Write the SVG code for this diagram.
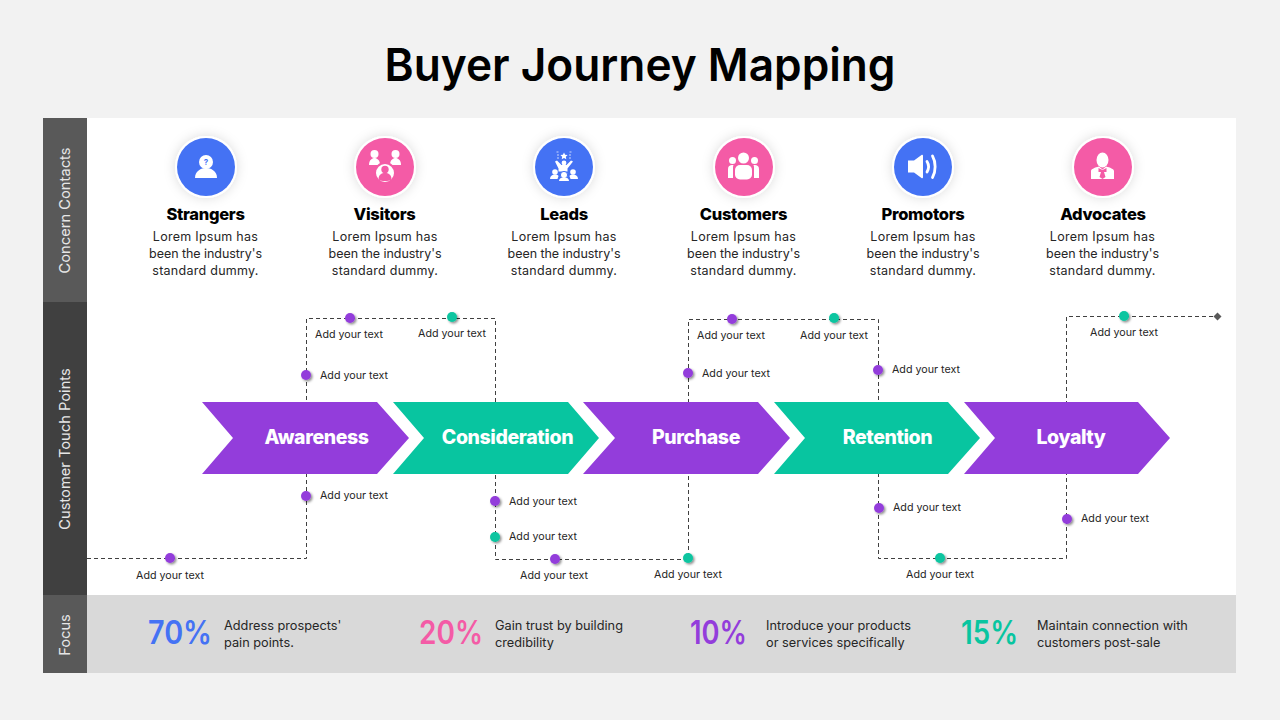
<svg xmlns="http://www.w3.org/2000/svg" width="1280" height="720" viewBox="0 0 1280 720">
<defs>
<filter id="ds" x="-60%" y="-60%" width="240%" height="240%"><feDropShadow dx="1.5" dy="1.5" stdDeviation="1.2" flood-color="#000" flood-opacity=".45"/></filter>
<filter id="gs" x="-40%" y="-40%" width="180%" height="180%"><feDropShadow dx="0" dy="0" stdDeviation="6" flood-color="#000" flood-opacity=".14"/></filter>
<circle id="dp" r="5" fill="#933ddb" filter="url(#ds)"/>
<circle id="dg" r="5" fill="#08c5a0" filter="url(#ds)"/>
</defs>
<style>
text{font-family:"Inter","Liberation Sans",sans-serif}
.title{font-size:45px;font-weight:600;fill:#000;text-anchor:middle}
.h{font-size:16.5px;font-weight:800;fill:#000;text-anchor:middle;letter-spacing:-.3px}
.b{font-size:12.5px;fill:#262626;text-anchor:middle}
.l1{letter-spacing:.27px}
.l2{letter-spacing:-.05px}
.s{font-size:10.7px;fill:#262626}
.m{text-anchor:middle}
.c{font-size:19.5px;font-weight:800;fill:#fff;text-anchor:middle;letter-spacing:-.4px}
.v{font-size:14.7px;fill:#e6e6e6;text-anchor:middle}
.p{font-size:32px;font-weight:600}
.f{font-size:12.75px;fill:#262626}
.ring{fill:#fff;filter:url(#gs)}
.i{fill:#fff}
.w{fill:none;stroke:#fff;stroke-width:2.800;stroke-linecap:round}
.sp{fill:none;stroke:#fff;stroke-width:.9;opacity:.8}
.dash{fill:none;stroke:#404040;stroke-width:1;stroke-dasharray:4 3}
</style>
<rect width="1280" height="720" fill="#f2f2f2"/>
<text class="title" x="640" y="81" textLength="511" lengthAdjust="spacingAndGlyphs">Buyer Journey Mapping</text>
<g id="panels">
<rect x="87" y="118" width="1149" height="477" fill="#fff"/>
<rect x="87" y="595" width="1149" height="78" fill="#d9d9d9"/>
<rect x="43" y="118" width="44" height="184" fill="#595959"/>
<rect x="43" y="302" width="44" height="293" fill="#404040"/>
<rect x="43" y="595" width="44" height="78" fill="#595959"/>
<text class="v" transform="translate(70 210.500) rotate(-90)">Concern Contacts</text>
<text class="v" transform="translate(70 449) rotate(-90)">Customer Touch Points</text>
<text class="v" transform="translate(70 635) rotate(-90)">Focus</text>
</g>
<g id="connectors">
<path class="dash" d="M87 558.500H306.500V318.500H495.500V559.500H688.500V319.500H878.500V558.500H1066.500V316.500H1217"/>
<path d="M1217.500 312.500l4 4-4 4-4-4z" fill="#595959"/>
</g>
<g id="node-strangers">
<circle class="ring" cx="206" cy="167" r="31"/><circle cx="206" cy="167" r="29" fill="#4472f4"/>
<circle class="i" cx="206" cy="162" r="7"/><path class="i" d="M195 178c0-7 6-10 11-10s11 3 11 10z"/>
<text x="206" y="165" font-size="8" font-weight="700" fill="#4472f4" text-anchor="middle">?</text>
<text class="h" x="205.500" y="220">Strangers</text>
<text class="b"><tspan class="l1" x="205.500" y="241">Lorem Ipsum has</tspan><tspan class="l2" x="205.500" y="258">been the industry's</tspan><tspan class="l1" x="205.500" y="275">standard dummy.</tspan></text>
</g>
<g id="node-visitors">
<circle class="ring" cx="385" cy="167" r="31"/><circle cx="385" cy="167" r="29" fill="#f45ba6"/>
<circle class="i" cx="374.500" cy="154" r="4"/><path class="i" d="M369 165c0-5 3-7 5.500-7s5.500 2 5.500 7z"/>
<circle class="i" cx="395.500" cy="154" r="4"/><path class="i" d="M390 165c0-5 3-7 5.500-7s5.500 2 5.500 7z"/>
<circle class="i" cx="385" cy="173" r="10" stroke="#f45ba6" stroke-width="2"/><circle cx="385" cy="169.500" r="3.700" fill="#f45ba6"/><path d="M378.500 179.500c0-5 3-6.500 6.500-6.500s6.500 1.500 6.500 6.500c-3 2-10 2-13 0z" fill="#f45ba6"/>
<text class="h" x="384.500" y="220">Visitors</text>
<text class="b"><tspan class="l1" x="385" y="241">Lorem Ipsum has</tspan><tspan class="l2" x="385" y="258">been the industry's</tspan><tspan class="l1" x="385" y="275">standard dummy.</tspan></text>
</g>
<g id="node-leads">
<circle class="ring" cx="564" cy="167" r="31"/><circle cx="564" cy="167" r="29" fill="#4472f4"/>
<path class="i" d="M564 152.500l1.100 2.300 2.500.3-1.800 1.700.5 2.500-2.300-1.300-2.300 1.300.5-2.500-1.800-1.700 2.500-.3z"/>
<path class="sp" d="M557 155h2M569 155h2M557 158h2M569 158h2M556.500 152h2M569.500 152h2"/>
<circle class="i" cx="564" cy="163" r="2.400"/>
<path class="i" d="M555 161.500l2-1 4.500 4.500h5l4.500-4.500 2 1-5.500 7v3h-9v-3z"/>
<circle class="i" cx="555" cy="172" r="2.800"/><path class="i" d="M550 179c0-3 2-4.500 5-4.500 2 0 3 .5 3.500 1.500l-1 3z"/>
<circle class="i" cx="573" cy="172" r="2.800"/><path class="i" d="M578 179c0-3-2-4.500-5-4.500-2 0-3 .5-3.500 1.500l1 3z"/>
<circle class="i" cx="564" cy="175" r="3.600" stroke="#4472f4" stroke-width="1"/><path class="i" d="M559 181c0-2.500 2-3.500 5-3.500s5 1 5 3.500z"/>
<text class="h" x="564" y="220">Leads</text>
<text class="b"><tspan class="l1" x="564" y="241">Lorem Ipsum has</tspan><tspan class="l2" x="564" y="258">been the industry's</tspan><tspan class="l1" x="564" y="275">standard dummy.</tspan></text>
</g>
<g id="node-customers">
<circle class="ring" cx="744" cy="167" r="31"/><circle cx="744" cy="167" r="29" fill="#f45ba6"/>
<circle class="i" cx="743.500" cy="158" r="5.500"/><rect class="i" x="735" y="165" width="17" height="14.500" rx="5"/>
<circle class="i" cx="732.500" cy="160.500" r="3.500"/><path class="i" d="M728 178v-9c0-3 2-4 4-4h1.500c-.5 1-.5 2-.5 3v10z"/>
<circle class="i" cx="754.500" cy="160.500" r="3.500"/><path class="i" d="M759 178v-9c0-3-2-4-4-4h-1.500c.5 1 .5 2 .5 3v10z"/>
<text class="h" x="743.500" y="220">Customers</text>
<text class="b"><tspan class="l1" x="743.500" y="241">Lorem Ipsum has</tspan><tspan class="l2" x="743.500" y="258">been the industry's</tspan><tspan class="l1" x="743.500" y="275">standard dummy.</tspan></text>
</g>
<g id="node-promotors">
<circle class="ring" cx="923" cy="167" r="31"/><circle cx="923" cy="167" r="29" fill="#4472f4"/>
<path class="i" d="M908 160.500h6l7.500-5.500c.8-.6 1.500-.2 1.500.7v21.600c0 .9-.7 1.300-1.500.7l-7.500-5.500h-6z"/>
<path class="w" d="M927 161.500c2 3.200 2 7 0 10.500"/>
<path class="w" d="M932.500 156c3.500 6 3.500 15.500 0 21.500"/>
<text class="h" x="923" y="220">Promotors</text>
<text class="b"><tspan class="l1" x="923" y="241">Lorem Ipsum has</tspan><tspan class="l2" x="923" y="258">been the industry's</tspan><tspan class="l1" x="923" y="275">standard dummy.</tspan></text>
</g>
<g id="node-advocates">
<circle class="ring" cx="1103" cy="167" r="31"/><circle cx="1103" cy="167" r="29" fill="#f45ba6"/>
<ellipse class="i" cx="1102.500" cy="160" rx="6" ry="7.500"/>
<path class="i" d="M1091 179v-8c0-2 4-3.500 8-4.500l3.500 3 3.500-3c4 1 8 2.500 8 4.500v8z"/>
<path d="M1102.500 170l-4-2v4l2.500 0-1.500 5 3 2 3-2-1.500-5 2.500 0v-4z" fill="#f45ba6"/>
<text class="h" x="1103" y="220">Advocates</text>
<text class="b"><tspan class="l1" x="1102.500" y="241">Lorem Ipsum has</tspan><tspan class="l2" x="1102.500" y="258">been the industry's</tspan><tspan class="l1" x="1102.500" y="275">standard dummy.</tspan></text>
</g>
<g id="node-awareness"><path d="M202 402H377L409 438L377 474H202L233 438z" fill="#933ddb"/><text class="c" x="316.500" y="444">Awareness</text></g>
<g id="node-consideration"><path d="M393 402H568L599 438L568 474H393L424 438z" fill="#08c5a0"/><text class="c" x="507.500" y="444">Consideration</text></g>
<g id="node-purchase"><path d="M583 402H758L790 438L758 474H583L615 438z" fill="#933ddb"/><text class="c" x="696" y="444">Purchase</text></g>
<g id="node-retention"><path d="M774 402H948L980 438L948 474H774L805 438z" fill="#08c5a0"/><text class="c" x="887.500" y="444">Retention</text></g>
<g id="node-loyalty"><path d="M964 402H1138L1170 438L1138 474H964L995 438z" fill="#933ddb"/><text class="c" x="1071" y="444">Loyalty</text></g>
<g id="touch-points">
<use href="#dp" x="350" y="318"/><text class="s m" x="349" y="338">Add your text</text>
<use href="#dg" x="452" y="317"/><text class="s m" x="452" y="337">Add your text</text>
<use href="#dp" x="306" y="375"/><text class="s" x="320" y="379">Add your text</text>
<use href="#dp" x="306" y="496"/><text class="s" x="320" y="499">Add your text</text>
<use href="#dp" x="170" y="558"/><text class="s m" x="170" y="579">Add your text</text>
<use href="#dp" x="495" y="501"/><text class="s" x="509" y="505">Add your text</text>
<use href="#dg" x="495" y="537"/><text class="s" x="509" y="540">Add your text</text>
<use href="#dp" x="555" y="559"/><text class="s m" x="554" y="579">Add your text</text>
<use href="#dg" x="688" y="558"/><text class="s m" x="688" y="578">Add your text</text>
<use href="#dp" x="688" y="373"/><text class="s" x="702" y="377">Add your text</text>
<use href="#dp" x="732" y="319"/><text class="s m" x="731" y="339">Add your text</text>
<use href="#dg" x="834" y="318"/><text class="s m" x="834" y="339">Add your text</text>
<use href="#dp" x="878" y="370"/><text class="s" x="892" y="373">Add your text</text>
<use href="#dp" x="879" y="508"/><text class="s" x="893" y="511">Add your text</text>
<use href="#dg" x="940" y="558"/><text class="s m" x="940" y="578">Add your text</text>
<use href="#dp" x="1067" y="519"/><text class="s" x="1081" y="522">Add your text</text>
<use href="#dg" x="1124" y="316"/><text class="s m" x="1124" y="336">Add your text</text>
</g>
<g id="focus">
<text class="p" x="148" y="644" fill="#4472f4" textLength="64" lengthAdjust="spacingAndGlyphs">70%</text><text class="f"><tspan x="224" y="630">Address prospects'</tspan><tspan x="224" y="647">pain points.</tspan></text>
<text class="p" x="419" y="644" fill="#f45ba6" textLength="64" lengthAdjust="spacingAndGlyphs">20%</text><text class="f"><tspan x="495" y="630">Gain trust by building</tspan><tspan x="495" y="647">credibility</tspan></text>
<text class="p" x="690" y="644" fill="#933ddb" textLength="57" lengthAdjust="spacingAndGlyphs">10%</text><text class="f"><tspan x="766" y="630">Introduce your products</tspan><tspan x="766" y="647">or services specifically</tspan></text>
<text class="p" x="961" y="644" fill="#08c5a0" textLength="57" lengthAdjust="spacingAndGlyphs">15%</text><text class="f"><tspan x="1037" y="630">Maintain connection with</tspan><tspan x="1037" y="647">customers post-sale</tspan></text>
</g>
</svg>
